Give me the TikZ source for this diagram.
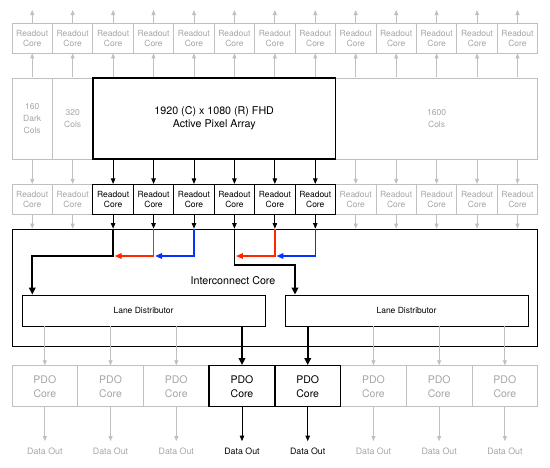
\documentclass[tikz,border=0pt]{standalone}
\usepackage{fontspec}
\setmainfont{TeX Gyre Heros}
\usetikzlibrary{arrows.meta}
\definecolor{lgray}{RGB}{192,192,192}
\definecolor{tgray}{RGB}{165,165,165}
\definecolor{sigred}{RGB}{255,38,0}
\definecolor{sigblue}{RGB}{4,51,255}
\tikzset{
  core/.style={minimum width=40.44pt, minimum height=30pt, inner sep=0pt, align=center, font=\fontsize{8.5}{10}\selectfont},
  cols/.style={minimum width=40.44pt, minimum height=81pt, inner sep=0pt, align=center, font=\fontsize{8.5}{11.7}\selectfont},
  pdo/.style={minimum width=65.715pt, minimum height=41pt, inner sep=0pt, align=center, font=\fontsize{10.5}{14}\selectfont},
  lane/.style={draw, line width=0.8pt, minimum width=243pt, minimum height=31pt, inner sep=0pt, font=\fontsize{8.5}{10}\selectfont},
  dout/.style={inner sep=0pt, font=\fontsize{8.8}{10}\selectfont},
  ghost/.style={draw=lgray, text=tgray, line width=0.8pt},
  live/.style={draw=black, text=black, line width=0.8pt},
  garr/.style={lgray, line width=0.8pt, -{Triangle[width=4pt,length=5pt]}},
  barr/.style={black, line width=0.8pt, -{Triangle[width=4.5pt,length=5.5pt]}},
  fat/.style={black, line width=1.8pt, -{Triangle[width=6.5pt,length=7pt]}},
  redarr/.style={sigred, line width=1.6pt, -{Triangle[width=5.5pt,length=7pt]}},
  bluearr/.style={sigblue, line width=1.6pt, -{Triangle[width=5.5pt,length=7pt]}},
}
\begin{document}
\begin{tikzpicture}[x=1pt,y=-1pt]
\useasboundingbox (0,0) rectangle (550,467);
\coordinate (top) at (0,10);
\coordinate (ja) at (32.3,256);
\coordinate (jb) at (295,265);
\foreach \i in {1,...,13}
  \node[core,ghost] (ru\i) at ({12+40.44*(\i-0.5)},38) {Readout\\Core};
\node[cols,ghost] (dark) at (32.22,118.5) {160\\Dark\\Cols};
\node[cols,ghost] (c320) at (72.66,118.5) {320\\Cols};
\node[cols,ghost,minimum width=202.2pt] (c1600) at (436.62,118.5) {1600\\Cols};
\node[cols,live,line width=1.8pt,minimum width=242.64pt,font=\fontsize{10.7}{13.3}\selectfont] (fhd) at (214.2,118.5) {1920 (C) x 1080 (R) FHD\\Active Pixel Array};
\foreach \i in {1,2,9,10,11,12,13}
  \node[core,ghost] (rm\i) at ({12+40.44*(\i-0.5)},199.3) {Readout\\Core};
\foreach \i in {3,...,8}
  \node[core,live] (rm\i) at ({12+40.44*(\i-0.5)},199.3) {Readout\\Core};
\node[draw,line width=0.8pt,minimum width=525.72pt,minimum height=117pt,inner sep=0pt] (ic) at (274.86,287.5) {};
\node[font=\fontsize{10.7}{12}\selectfont] (icl) at (233,281) {Interconnect Core};
\node[lane] (ldl) at (143.5,310.5) {Lane Distributor};
\node[lane] (ldr) at (406.5,310.5) {Lane Distributor};
\foreach \i in {1,2,3,6,7,8}{
  \node[pdo,ghost] (pdo\i) at ({12+65.715*(\i-0.5)},386.2) {PDO\\Core};
  \node[dout,text=tgray] (do\i) at ({12+65.715*(\i-0.5)},451.7) {Data Out};
  \draw[garr,shorten >=7pt] (pdo\i.south) -- (do\i.north);
}
\foreach \i in {4,5}{
  \node[pdo,live,line width=1.3pt] (pdo\i) at ({12+65.715*(\i-0.5)},386.2) {PDO\\Core};
  \node[dout] (do\i) at ({12+65.715*(\i-0.5)},451.7) {Data Out};
  \draw[barr,shorten >=7pt] (pdo\i.south) -- (do\i.north);
}
\foreach \i in {1,...,13}{
  \draw[garr] (ru\i.north) -- (ru\i.north |- top);
  \draw[garr] (ru\i.south |- fhd.north) -- (ru\i.south);
}
\foreach \i in {1,2,9,10,11,12,13}{
  \draw[garr] (rm\i.north |- fhd.south) -- (rm\i.north);
  \draw[garr] (rm\i.south) -- (rm\i.south |- ic.north);
}
\foreach \i in {3,...,8}{
  \draw[barr] (rm\i.north |- fhd.south) -- (rm\i.north);
  \draw[barr] (rm\i.south) -- (rm\i.south |- ic.north);
}
\draw[fat] (rm3.south |- ic.north) |- (ja) -- (ja |- ldl.north);
\draw[fat] (rm6.south |- ic.north) |- (jb) -- (jb |- ldr.north);
\draw[redarr] (rm4.south |- ic.north) |- ([xshift=1.5pt]rm3.south |- ja);
\draw[bluearr] (rm5.south |- ic.north) |- ([xshift=1.5pt]rm4.south |- ja);
\draw[redarr] (rm7.south |- ic.north) |- ([xshift=1.5pt]rm6.south |- ja);
\draw[bluearr] (rm8.south |- ic.north) |- ([xshift=1.5pt]rm7.south |- ja);
\foreach \i in {1,2,3}
  \draw[garr] (pdo\i.north |- ldl.south) -- (pdo\i.north);
\foreach \i in {6,7,8}
  \draw[garr] (pdo\i.north |- ldr.south) -- (pdo\i.north);
\draw[fat] (pdo4.north |- ldl.south) -- (pdo4.north);
\draw[fat] (pdo5.north |- ldr.south) -- (pdo5.north);
\end{tikzpicture}
\end{document}
